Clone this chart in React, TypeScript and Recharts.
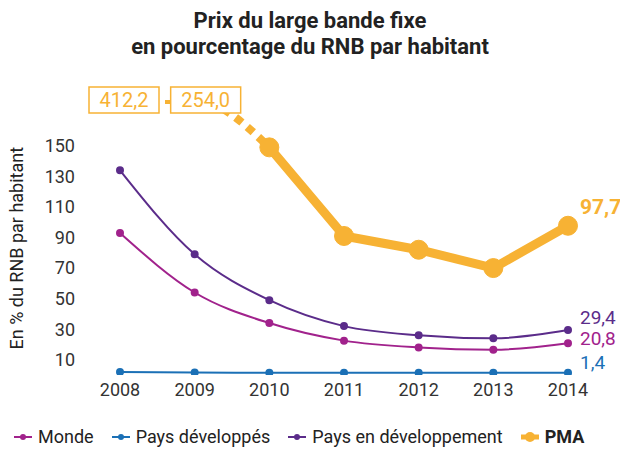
import React from 'react';
import { LineChart, Line, XAxis, YAxis, LabelList } from 'recharts';

const years = ['2008', '2009', '2010', '2011', '2012', '2013', '2014'];
const monde = [93, 54, 34, 22.5, 18, 16.5, 20.8];
const developpes = [2, 1.6, 1.5, 1.5, 1.4, 1.4, 1.4];
const enDeveloppement = [134, 79, 49, 32, 26, 24, 29.4];
const pma = [412.2, 254.0, 149, 91, 82, 70, 97.7];
const yTicks = [10, 30, 50, 70, 90, 110, 130, 150];

// values above this are drawn on the top edge, with their value in a box
const CAP = 180;
// last index drawn dashed (off-scale part)
const DASH_END = 2;

const C_MONDE = '#a1228c';
const C_DEV = '#1b70b6';
const C_EN_DEV = '#5b2c8a';
const C_PMA = '#f7b234';

const FONT = "'Liberation Sans Narrow', 'Roboto', 'Noto Sans', sans-serif";

const data = years.map((year, i) => ({
  year,
  monde: monde[i],
  developpes: developpes[i],
  enDeveloppement: enDeveloppement[i],
  pmaDash: i <= DASH_END ? Math.min(pma[i], CAP) : null,
  pmaSolid: i >= DASH_END ? pma[i] : null,
}));

const fmt = (v: number) => v.toFixed(1).replace('.', ',');

function endLabel(color: string, bold = false, dy = -8) {
  return (props: any) => {
    const { x, y, index, value } = props;
    if (index !== years.length - 1 || value == null) return null;
    return (
      <text
        x={x + 12}
        y={y + dy}
        fill={color}
        fontSize={bold ? 21 : 19}
        fontWeight={bold ? 700 : 400}
        fontFamily={FONT}
      >
        {fmt(Number(value))}
      </text>
    );
  };
}

const boxOffsets = [4, 11];

function boxLabel(props: any) {
  const { x, y, index } = props;
  if (index >= DASH_END || pma[index] <= CAP) return null;
  const cx = x + (boxOffsets[index] ?? 0);
  const w = 70;
  const h = 26;
  return (
    <g>
      <rect x={cx - w / 2} y={y - h / 2} width={w} height={h} fill="#fff" stroke={C_PMA} strokeWidth={1.5} />
      <text x={cx} y={y + 7} textAnchor="middle" fill={C_PMA} fontSize={20} fontFamily={FONT}>
        {fmt(pma[index])}
      </text>
    </g>
  );
}

const legendItems = [
  { label: 'Monde', color: C_MONDE, bold: false },
  { label: 'Pays développés', color: C_DEV, bold: false },
  { label: 'Pays en développement', color: C_EN_DEV, bold: false },
  { label: 'PMA', color: C_PMA, bold: true },
];

function LegendMarker({ color, bold }: { color: string; bold: boolean }) {
  return (
    <svg width={22} height={12} style={{ marginRight: 4 }}>
      <line x1={2} y1={6} x2={20} y2={6} stroke={color} strokeWidth={bold ? 5 : 2} />
      <circle cx={11} cy={6} r={bold ? 5 : 3} fill={color} />
    </svg>
  );
}

export default function App() {
  return (
    <div style={{ position: 'absolute', left: 0, top: 0, width: 620, height: 455, background: '#fff', fontFamily: FONT }}>
      <div
        style={{
          position: 'absolute',
          left: 0,
          top: 8,
          width: 620,
          textAlign: 'center',
          fontWeight: 700,
          fontSize: 22,
          lineHeight: '26px',
          color: '#222',
        }}
      >
        Prix du large bande fixe
        <br />
        en pourcentage du RNB par habitant
      </div>
      <LineChart width={620} height={455} data={data} margin={{ top: 100, right: 27, left: 0, bottom: 50 }}>
        <XAxis
          dataKey="year"
          axisLine={false}
          tickLine={false}
          tickSize={0}
          tickMargin={8}
          height={30}
          padding={{ left: 25, right: 25 }}
          tick={{ fontSize: 18, fill: '#333', fontFamily: FONT }}
        />
        <YAxis
          domain={[0, CAP]}
          ticks={yTicks}
          allowDataOverflow
          axisLine={false}
          tickLine={false}
          tickSize={0}
          tickMargin={20}
          width={95}
          tick={{ fontSize: 18, fill: '#333', fontFamily: FONT }}
          label={{
            value: 'En % du RNB par habitant',
            angle: -90,
            position: 'insideLeft',
            dx: 12,
            dy: 112,
            style: { fontSize: 18, fill: '#222', fontFamily: FONT },
          }}
        />
        <Line
          dataKey="pmaDash"
          type="monotone"
          stroke={C_PMA}
          strokeWidth={8}
          strokeDasharray="8 7"
          dot={false}
          connectNulls={false}
          isAnimationActive={false}
        >
          <LabelList dataKey="pmaDash" content={boxLabel} />
        </Line>
        <Line
          dataKey="developpes"
          type="monotone"
          stroke={C_DEV}
          strokeWidth={2}
          dot={{ r: 3, fill: C_DEV, stroke: C_DEV }}
          isAnimationActive={false}
        >
          <LabelList dataKey="developpes" content={endLabel(C_DEV, false, -4)} />
        </Line>
        <Line
          dataKey="monde"
          type="monotone"
          stroke={C_MONDE}
          strokeWidth={2}
          dot={{ r: 3, fill: C_MONDE, stroke: C_MONDE }}
          isAnimationActive={false}
        >
          <LabelList dataKey="monde" content={endLabel(C_MONDE, false, 2)} />
        </Line>
        <Line
          dataKey="enDeveloppement"
          type="monotone"
          stroke={C_EN_DEV}
          strokeWidth={2}
          dot={{ r: 3, fill: C_EN_DEV, stroke: C_EN_DEV }}
          isAnimationActive={false}
        >
          <LabelList dataKey="enDeveloppement" content={endLabel(C_EN_DEV, false, -6)} />
        </Line>
        <Line
          dataKey="pmaSolid"
          type="linear"
          stroke={C_PMA}
          strokeWidth={9}
          strokeLinejoin="round"
          dot={{ r: 9.5, fill: C_PMA, stroke: C_PMA, strokeWidth: 1 }}
          isAnimationActive={false}
        >
          <LabelList dataKey="pmaSolid" content={endLabel(C_PMA, true, -12)} />
        </Line>
      </LineChart>
      <div
        style={{
          position: 'absolute',
          left: 12,
          top: 426,
          display: 'flex',
          alignItems: 'center',
          fontSize: 18,
          color: '#222',
        }}
      >
        {legendItems.map((it) => (
          <div key={it.label} style={{ display: 'flex', alignItems: 'center', marginRight: 16, fontWeight: it.bold ? 700 : 400 }}>
            <LegendMarker color={it.color} bold={it.bold} />
            {it.label}
          </div>
        ))}
      </div>
    </div>
  );
}
